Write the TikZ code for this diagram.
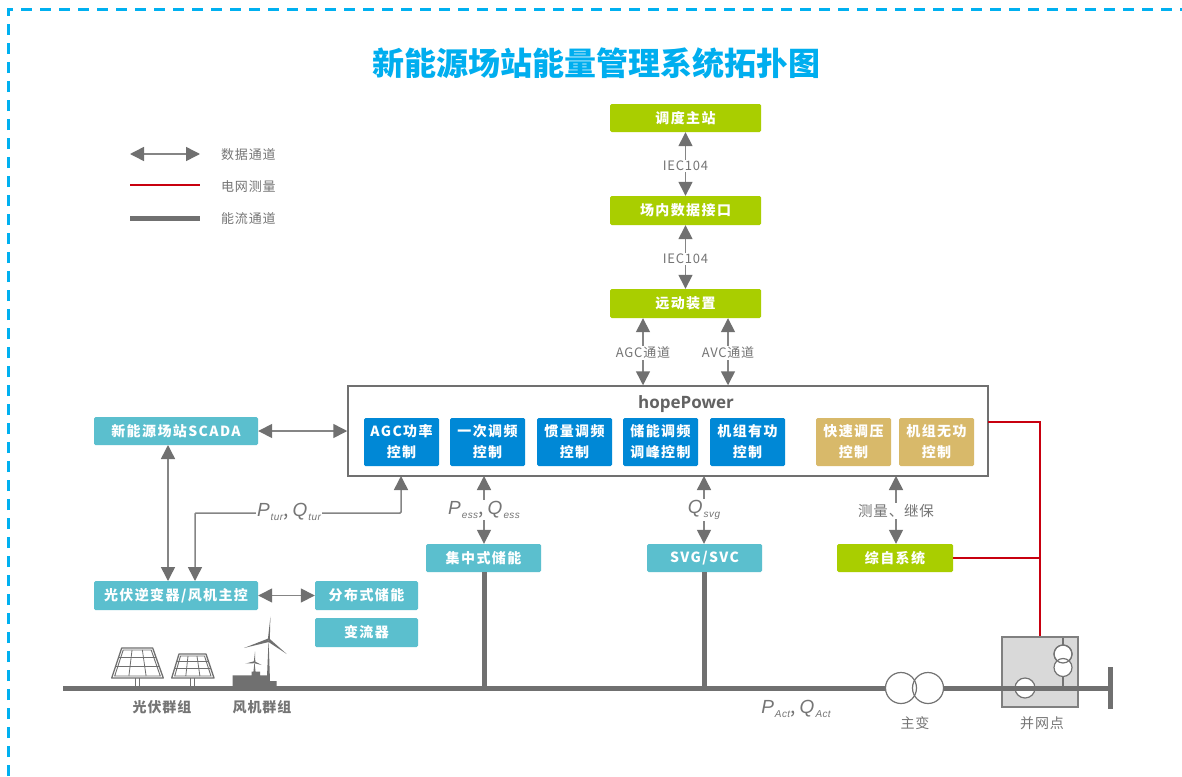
\documentclass[tikz,border=0pt]{standalone}
\usepackage{fontspec}
\setmainfont{Noto Sans CJK SC}
\newfontfamily\lsfont[LetterSpace=6]{Noto Sans CJK SC}
\newfontfamily\lsfontb[LetterSpace=10]{Noto Sans CJK SC}
\newfontfamily\latinit[LetterSpace=4]{Liberation Sans}
\newfontfamily\hopefont{Open Sans}
\usetikzlibrary{arrows.meta}
\definecolor{dashblue}{HTML}{00B0F0}
\definecolor{titleblue}{HTML}{00AEEF}
\definecolor{lgreen}{HTML}{A9CE00}
\definecolor{teal}{HTML}{5BBFCE}
\definecolor{cblue}{HTML}{0088D6}
\definecolor{gold}{HTML}{D8B96A}
\definecolor{gline}{HTML}{707070}
\definecolor{gtext}{HTML}{757575}
\definecolor{redline}{HTML}{C8000F}
\newcommand{\qty}[2]{{\latinit\itshape #1}\kern1pt\raisebox{-4pt}{\fontsize{10}{10}\selectfont\latinit\itshape #2}}
\tikzset{
  x=1pt,y=-1pt,
  box/.style={rounded corners=1.5pt,inner sep=0,font=\bfseries\lsfontb\fontsize{14}{21}\selectfont,text=white,align=center},
  data/.style={draw=gline!85,line width=1.5pt,{Triangle[length=14pt,width=14pt,color=gline]}-{Triangle[length=14pt,width=14pt,color=gline]}},
  power/.style={draw=gline,line width=5pt},
  meas/.style={draw=redline,line width=1.5pt},
  lab/.style={fill=white,inner sep=1pt,text=gtext,font=\lsfont\fontsize{13}{13}\selectfont},
  qlab/.style={fill=white,inner sep=1pt,text=gtext,font=\fontsize{19}{19}\selectfont},
  sym/.style={draw=gray!90!black,line width=1.2pt},
}
\newcommand{\bx}[7]{\node[box,fill=#6,minimum width=#4-#2,minimum height=#5-#3] (#1) at ({(#2+#4)/2},{(#3+#5)/2}) {#7};}
\newcommand{\panel}[8]{%
  \draw[gline,line width=1.3pt,fill=white,line join=round] (#1,#5)--(#2,#5)--(#4,#6)--(#3,#6)--cycle;
  \draw[gline,line width=0.9pt] ({#1+1.5},{#5+2})--({#2-1.5},{#5+2})--({#4-3},{#6-2})--({#3+3},{#6-2})--cycle;
  \draw[gline,line width=0.8pt] ({#1+(#2-#1)/3},{#5+2})--({#3+(#4-#3)/3},{#6-2});
  \draw[gline,line width=0.8pt] ({#1+2*(#2-#1)/3},{#5+2})--({#3+2*(#4-#3)/3},{#6-2});
  \draw[gline,line width=0.8pt] ({(3*#1+#3)/4-0.5},{#5+(#6-#5)*0.3})--({(3*#2+#4)/4+0.5},{#5+(#6-#5)*0.3});
  \draw[gline,line width=0.8pt] ({(#1+#3)/2-1},{#5+(#6-#5)*0.6})--({(#2+#4)/2+1},{#5+(#6-#5)*0.6});
  \draw[gline,line width=0.8pt] ({#7-2},#6)--({#7-2},686) ({#7+2},#6)--({#7+2},686);
  \coordinate (#8) at (#7,686);
}
\begin{document}
\begin{tikzpicture}
\useasboundingbox (0,0) rectangle (1182,776);
\fill[white] (0,0) rectangle (1182,776);
% frame
\coordinate (fbl) at (8,776);
\coordinate (ftl) at (8,10);
\coordinate (ftr) at (1182,10);
\draw[dashblue,line width=3pt,dash pattern=on 11pt off 8pt] (fbl)--(ftl)--(ftr);
\node[font=\bfseries\fontsize{32}{32}\selectfont,text=titleblue] (title) at (596,63) {新能源场站能量管理系统拓扑图};
% legend
\coordinate (l1a) at (130,154);\coordinate (l1b) at (200,154);
\coordinate (l2a) at (130,185);\coordinate (l2b) at (200,185);
\coordinate (l3a) at (130,218);\coordinate (l3b) at (200,218);
\draw[data] (l1a)--(l1b);
\draw[meas,line width=2.2pt] (l2a)--(l2b);
\draw[power] (l3a)--(l3b);
\node[lab,anchor=west,fill=none,inner sep=0] (lt1) at (221,155) {数据通道};
\node[lab,anchor=west,fill=none,inner sep=0] (lt2) at (221,187) {电网测量};
\node[lab,anchor=west,fill=none,inner sep=0] (lt3) at (221,219) {能流通道};
\coordinate (busl) at (63,688);\coordinate (busr) at (1110,688);
\coordinate (t1) at (901,688);\coordinate (t2) at (928,688);
\coordinate (c1) at (484,688);\coordinate (c2) at (704,688);
% top boxes
\bx{dd}{610}{104}{761}{132}{lgreen}{调度主站}
\bx{cn}{610}{196}{761}{225}{lgreen}{场内数据接口}
\bx{yd}{610}{289}{761}{318}{lgreen}{远动装置}
\draw[data] (dd)--(cn) node[lab,pos=0.53] {IEC104};
\draw[data] (cn)--(yd) node[lab,pos=0.53] {IEC104};
% hopePower
\node[draw=gline,line width=1.5pt,minimum width=640,minimum height=90,inner sep=0] (hp) at (668,431) {};
\node[font=\bfseries\hopefont\fontsize{17}{17}\selectfont,text=gtext!85!black] (hpt) at (686,404) {hopePower};
\bx{b1}{364}{418}{439}{466}{cblue}{AGC功率\\控制}
\bx{b2}{450}{418}{525}{466}{cblue}{一次调频\\控制}
\bx{b3}{537}{418}{612}{466}{cblue}{惯量调频\\控制}
\bx{b4}{623}{418}{698}{466}{cblue}{储能调频\\调峰控制}
\bx{b5}{710}{418}{785}{466}{cblue}{机组有功\\控制}
\bx{g1}{816}{418}{891}{466}{gold}{快速调压\\控制}
\bx{g2}{899}{418}{974}{466}{gold}{机组无功\\控制}
\path (yd.south) ++(-42.5,0) coordinate (agca);
\path (yd.south) ++(42.5,0) coordinate (avca);
\draw[data] (agca)--(agca |- hp.north) node[lab,midway,yshift=-1pt] {AGC通道};
\draw[data] (avca)--(avca |- hp.north) node[lab,midway,yshift=-1pt] {AVC通道};
% SCADA etc.
\bx{sc}{94}{417}{258}{445}{teal}{新能源场站SCADA}
\bx{gf}{94}{581}{258}{610}{teal}{光伏逆变器/风机主控}
\bx{fb}{315}{581}{418}{610}{teal}{分布式储能}
\bx{bl}{315}{618}{418}{647}{teal}{变流器}
\bx{jz}{426}{544}{541}{572}{teal}{集中式储能}
\bx{sv}{647}{544}{762}{572}{teal}{SVG/SVC}
\bx{zz}{837}{544}{953}{572}{lgreen}{综自系统}
\draw[data] (sc.east)--(sc.east -| hp.west);
\coordinate (a1) at (168,445);\coordinate (a2) at (168,581);
\draw[data] (a1)--(a2);
\coordinate (p1) at (195,581);\coordinate (p2) at (195,513);\coordinate (p3) at (401,513);\coordinate (p4) at (401,476);
\draw[data,rounded corners=1pt] (p1)--(p2)--(p3)--(p4);
\node[qlab] (ptur) at (289,512) {\qty{P}{tur}, \qty{Q}{tur}};
\draw[data] (gf.east)--(fb.west);
\coordinate (e1) at (484,476);\coordinate (e2) at (704,476);\coordinate (e3) at (896,476);
\draw[data] (e1)--(e1 |- jz.north) node[qlab,midway] (pess) {\qty{P}{ess}, \qty{Q}{ess}};
\draw[data] (e2)--(e2 |- sv.north) node[qlab,midway] (qsvg) {\qty{Q}{svg}};
\draw[data] (e3)--(e3 |- zz.north) node[lab,midway,font=\lsfont\fontsize{14.5}{14.5}\selectfont,yshift=-1pt] (cl) {测量、继保};
% bus
\draw[power] (busl)--(t1);
\coordinate (bust) at (1110,667);\coordinate (busb) at (1110,709);
\draw[power] (bust)--(busb);
\draw[power] (e1 |- jz.south)--(c1);
\draw[power] (e2 |- sv.south)--(c2);
% red
\coordinate (r1) at (988,422);\coordinate (r2) at (1040,422);\coordinate (r3) at (1040,637);
\draw[meas] (r1)--(r2)--(r3);
\draw[meas] (zz.east)--(zz.east -| r2);
% transformer
\node[circle,sym,fill=white,minimum size=31,inner sep=0] (tr1) at (t1) {};
\node[circle,sym,minimum size=31,inner sep=0] (tr2) at (t2) {};
\draw[power] (tr2.east)--(busr);
% grid point
\node[draw=gray,fill=gray!30,line width=1.2pt,minimum width=76,minimum height=70,inner sep=0] (gp) at (1040,672) {};
\node[circle,sym,fill=white,minimum size=20,inner sep=0] (gc) at (1025,688) {};
\draw[power] (gp.west |- busr)--(busr);
\coordinate (pt0) at (1063,638);\coordinate (pt1) at (1063,686);
\draw[sym] (pt0)--(pt1);
\node[circle,sym,fill=white,minimum size=18,inner sep=0] (pa) at (1063,654) {};
\node[circle,sym,fill=white,minimum size=18,inner sep=0] (pb) at (1063,667.5) {};
\node[circle,sym,minimum size=18,inner sep=0] (pc) at (1063,654) {};
\node[lab,fill=none,font=\lsfont\fontsize{14}{14}\selectfont] (zb) at (915,723) {主变};
\node[lab,fill=none,font=\lsfont\fontsize{14}{14}\selectfont] (bw) at (1042,723) {并网点};
\node[inner sep=0,text=gtext,font=\fontsize{19}{19}\selectfont] (pact) at (796,709) {\qty{P}{Act}, \qty{Q}{Act}};
% panels
\panel{121.7}{152.7}{111.7}{163.3}{648}{678}{137.7}{pv1}
\panel{179}{206}{171.7}{214}{654}{678}{192.5}{pv2}
% turbines
\fill[gline] (232.7,687)--(232.7,675.3)--(251.7,675.3)--(251.7,671.7)--(260,671.7)--(260,675.3)--(268,675.3)--(268,681)--(276.7,681)--(276.7,687)--cycle;
\fill[gline] (266.8,681)--(268.6,640)--(270,681)--cycle;
\fill[gline] (267.8,640)--(270.4,616.7)--(269.8,640)--cycle;
\fill[gline] (268.3,638.5)--(244,648)--(268.8,642)--cycle;
\fill[gline] (267.8,641.5)--(286.7,654)--(269.8,639)--cycle;
\fill[gline] (253.4,672)--(254.5,662)--(255.6,672)--cycle;
\fill[gline] (253.8,662)--(255,651.7)--(255.3,662)--cycle;
\fill[gline] (254.3,661.2)--(245.7,663.5)--(254.3,663.2)--cycle;
\fill[gline] (254.3,661.2)--(261.7,665)--(254.3,663.2)--cycle;
\node[lab,fill=none,font=\bfseries\lsfont\fontsize{14}{14}\selectfont] (pvt) at (162,707) {光伏群组};
\node[lab,fill=none,font=\bfseries\lsfont\fontsize{14}{14}\selectfont] (wdt) at (262,707) {风机群组};
\end{tikzpicture}
\end{document}
